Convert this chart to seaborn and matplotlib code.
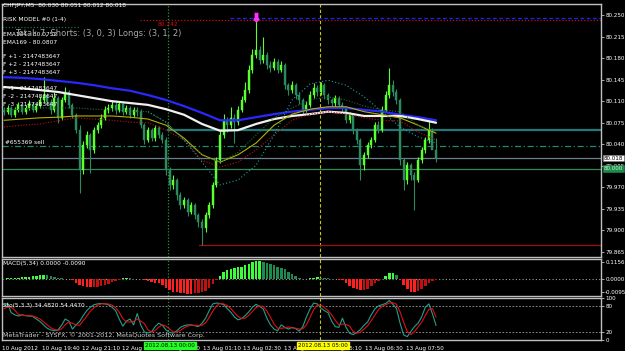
import numpy as np
import pandas as pd
import matplotlib
matplotlib.use("Agg")
import matplotlib.pyplot as plt
import seaborn as sns

# ---------------- data ----------------
open0 = 80.096
close = [80.093, 80.099, 80.088, 80.096, 80.104, 80.093, 80.099, 80.105, 80.096, 80.102,
         80.112, 80.120, 80.109, 80.096, 80.115, 80.083, 80.112, 80.125, 80.104, 80.088,
         80.063, 79.998, 80.039, 80.055, 80.031, 80.063, 80.071, 80.083, 80.096, 80.099,
         80.104, 80.096, 80.105, 80.093, 80.099, 80.088, 80.096, 80.093, 80.071, 80.047,
         80.063, 80.050, 80.066, 80.055, 80.047, 79.998, 79.974, 79.982, 79.958, 79.941,
         79.949, 79.930, 79.941, 79.925, 79.914, 79.904, 79.925, 79.941, 79.974, 80.014,
         80.055, 80.079, 80.071, 80.083, 80.076, 80.096, 80.112, 80.128, 80.161, 80.185,
         80.193, 80.177, 80.185, 80.169, 80.164, 80.174, 80.161, 80.169, 80.136, 80.128,
         80.136, 80.120, 80.112, 80.096, 80.104, 80.120, 80.131, 80.125, 80.136, 80.120,
         80.112, 80.107, 80.115, 80.104, 80.099, 80.079, 80.088, 80.063, 80.047, 80.006,
         80.023, 80.039, 80.047, 80.071, 80.063, 80.096, 80.120, 80.136, 80.125, 80.112,
         80.014, 79.982, 80.006, 79.990, 79.982, 80.014, 80.031, 80.047, 80.063, 80.030,
         80.018]
high = [80.101, 80.104, 80.102, 80.100, 80.109, 80.107, 80.104, 80.112, 80.108, 80.107,
        80.118, 80.149, 80.124, 80.113, 80.125, 80.118, 80.117, 80.133, 80.128, 80.107,
        80.091, 80.071, 80.045, 80.062, 80.058, 80.068, 80.077, 80.090, 80.102, 80.105,
        80.112, 80.108, 80.110, 80.108, 80.104, 80.102, 80.101, 80.100, 80.097, 80.075,
        80.068, 80.067, 80.071, 80.070, 80.060, 80.052, 80.003, 79.990, 79.986, 79.962,
        79.955, 79.953, 79.946, 79.945, 79.929, 79.918, 79.930, 79.946, 79.978, 80.020,
        80.062, 80.090, 80.085, 80.100, 80.090, 80.102, 80.118, 80.141, 80.168, 80.195,
        80.242, 80.200, 80.215, 80.190, 80.175, 80.180, 80.178, 80.175, 80.172, 80.140,
        80.143, 80.140, 80.125, 80.116, 80.110, 80.126, 80.140, 80.136, 80.142, 80.140,
        80.124, 80.116, 80.120, 80.118, 80.108, 80.103, 80.093, 80.091, 80.067, 80.050,
        80.028, 80.044, 80.052, 80.076, 80.078, 80.102, 80.126, 80.164, 80.145, 80.130,
        80.116, 80.018, 80.012, 80.010, 79.995, 80.020, 80.036, 80.052, 80.080, 80.067,
        80.051]
low = [80.088, 80.090, 80.084, 80.085, 80.093, 80.090, 80.090, 80.096, 80.092, 80.093,
       80.099, 80.108, 80.104, 80.090, 80.093, 80.074, 80.080, 80.108, 80.099, 80.083,
       80.058, 79.961, 79.992, 80.034, 79.993, 80.026, 80.058, 80.066, 80.079, 80.091,
       80.094, 80.090, 80.092, 80.088, 80.089, 80.083, 80.084, 80.086, 80.066, 80.040,
       80.043, 80.045, 80.046, 80.050, 80.042, 79.990, 79.966, 79.968, 79.950, 79.935,
       79.936, 79.924, 79.926, 79.918, 79.906, 79.876, 79.898, 79.920, 79.937, 79.970,
       80.010, 80.050, 80.060, 80.066, 80.042, 80.072, 80.092, 80.108, 80.124, 80.156,
       80.180, 80.170, 80.172, 80.163, 80.158, 80.160, 80.155, 80.157, 80.130, 80.120,
       80.123, 80.113, 80.106, 80.090, 80.092, 80.100, 80.116, 80.118, 80.120, 80.114,
       80.106, 80.101, 80.103, 80.099, 80.093, 80.074, 80.074, 80.057, 80.040, 79.982,
       79.998, 80.018, 80.034, 80.043, 80.058, 80.060, 80.092, 80.115, 80.118, 80.105,
       80.006, 79.966, 79.976, 79.982, 79.933, 79.978, 80.010, 80.026, 80.042, 80.033,
       80.012]

# moving averages sampled every 5 bars (bar 0 .. 120)
ma_step = 5
ema169 = [80.149, 80.148, 80.146, 80.143, 80.140, 80.136, 80.131, 80.127, 80.120, 80.112,
          80.102, 80.091, 80.079, 80.079, 80.084, 80.089, 80.093, 80.096, 80.099, 80.099,
          80.096, 80.093, 80.088, 80.084, 80.079]
ema144 = [80.133, 80.131, 80.128, 80.125, 80.120, 80.115, 80.110, 80.107, 80.104, 80.097,
          80.088, 80.073, 80.062, 80.063, 80.073, 80.081, 80.086, 80.089, 80.093, 80.091,
          80.086, 80.086, 80.086, 80.081, 80.075]
ma_yellow = [80.079, 80.081, 80.083, 80.084, 80.086, 80.086, 80.086, 80.084, 80.081, 80.071,
             80.050, 80.023, 80.011, 80.023, 80.042, 80.071, 80.089, 80.097, 80.101, 80.101,
             80.093, 80.088, 80.083, 80.071, 80.058]
ma_red = [80.068, 80.071, 80.073, 80.078, 80.083, 80.081, 80.079, 80.076, 80.075, 80.063,
          80.047, 80.014, 80.003, 80.011, 80.031, 80.055, 80.079, 80.089, 80.093, 80.089,
          80.083, 80.079, 80.078, 80.060, 80.047]
ma_dkgreen = [80.096, 80.097, 80.099, 80.099, 80.099, 80.097, 80.096, 80.094, 80.093, 80.076,
              80.047, 80.023, 80.011, 80.027, 80.055, 80.083, 80.099, 80.112, 80.117, 80.112,
              80.102, 80.096, 80.093, 80.071, 80.060]
arc_start = 40
ma_cyan = [80.093, 80.076, 80.047, 80.011, 79.974, 79.982, 80.006, 80.055, 80.112, 80.138,
           80.144, 80.136, 80.117, 80.093, 80.068, 80.052, 80.042]

macd = [0.003, 0.004, 0.006, 0.008, 0.010, 0.012, 0.014, 0.016, 0.018, 0.020,
        0.024, 0.027, 0.025, 0.020, 0.014, 0.008, 0.004, 0.002, 0.000, -0.010,
        -0.025, -0.040, -0.050, -0.054, -0.056, -0.054, -0.052, -0.048, -0.040, -0.032,
        -0.022, -0.012, -0.004, 0.004, 0.006, 0.005, 0.003, 0.002, 0.000, -0.006,
        -0.012, -0.018, -0.024, -0.030, -0.040, -0.060, -0.075, -0.085, -0.090, -0.095,
        -0.098, -0.100, -0.100, -0.098, -0.095, -0.090, -0.080, -0.060, -0.035, -0.010,
        0.020, 0.045, 0.060, 0.070, 0.075, 0.080, 0.085, 0.092, 0.105, 0.115,
        0.120, 0.125, 0.115, 0.108, 0.100, 0.092, 0.085, 0.075, 0.065, 0.050,
        0.035, 0.020, 0.008, 0.000, 0.002, 0.006, 0.010, 0.012, 0.010, 0.008,
        0.004, 0.002, 0.000, -0.004, -0.010, -0.025, -0.045, -0.060, -0.070, -0.075,
        -0.072, -0.065, -0.050, -0.030, -0.012, -0.002, 0.020, 0.040, 0.042, 0.025,
        -0.005, -0.040, -0.065, -0.085, -0.090, -0.080, -0.065, -0.045, -0.025, -0.012,
        -0.005]

stoch_k = [80, 88, 65, 60, 57, 60, 58, 57, 56, 50,
           44, 36, 28, 24, 22, 24, 35, 50, 45, 26,
           36, 44, 58, 70, 78, 84, 86, 87, 86, 84,
           78, 70, 50, 33, 45, 50, 36, 63, 35, 19,
           17, 20, 32, 40, 35, 24, 18, 16, 22, 30,
           34, 36, 36, 34, 32, 40, 52, 70, 86, 88,
           87, 84, 75, 66, 55, 48, 51, 58, 67, 78,
           85, 80, 74, 52, 36, 26, 22, 36, 30, 26,
           30, 27, 21, 32, 55, 74, 88, 86, 76, 70,
           65, 45, 32, 30, 52, 30, 16, 13, 18, 25,
           35, 43, 60, 74, 81, 84, 87, 94, 85, 75,
           40, 12, 8, 20, 32, 40, 55, 78, 86, 62,
           34.5]
stoch_d = [75, 78, 78, 71, 61, 59, 58, 58, 57, 54,
           50, 43, 36, 29, 25, 23, 27, 36, 43, 40,
           36, 35, 46, 57, 69, 77, 83, 86, 86, 86,
           83, 77, 66, 51, 43, 43, 44, 50, 45, 39,
           24, 19, 23, 31, 36, 33, 26, 19, 19, 23,
           29, 33, 35, 35, 34, 35, 41, 54, 69, 81,
           87, 86, 82, 75, 65, 56, 51, 52, 59, 68,
           77, 81, 80, 69, 54, 38, 28, 28, 29, 31,
           29, 28, 26, 27, 36, 54, 72, 83, 83, 77,
           70, 60, 47, 36, 38, 37, 33, 20, 16, 19,
           26, 34, 46, 59, 72, 80, 84, 88, 89, 85,
           67, 42, 20, 13, 20, 31, 42, 58, 73, 75,
           54.4]

price_ticks = [80.250, 80.215, 80.180, 80.145, 80.110, 80.075, 80.040, 80.005,
               79.970, 79.935, 79.900, 79.865]
time_tick_bars = [-0.5, 10.6, 21.7, 32.8, 43.9, 55.3, 66.4, 77.8, 88.9, 100.3, 111.7]
time_tick_labels = ["10 Aug 2012", "10 Aug 19:40", "12 Aug 21:10", "12 Aug 22:30",
                    "12 Aug 23:50", "13 Aug 01:10", "13 Aug 02:30", "13 Aug 03:50",
                    "13 Aug 05:10", "13 Aug 06:30", "13 Aug 07:50"]
vline_green_bar = 45.6
vline_yellow_bar = 87.8

high_level = 80.242
blue_level = 80.245
order_level = 80.063
sell_level = 80.037
bid_level = 80.018
green_level = 80.000
red_level = 79.876

info_lines = ["RISK MODEL #0 (1-4)", "EMA144 - 80.0752", "EMA169 - 80.0807",
              "F +1 - 2147483647", "F +2 - 2147483647", "F +3 - 2147483647",
              "F -1 - 2147483647", "F -2 - 2147483647", "F -3 - 2147483647"]
info_y = [20, 35, 43, 57, 65, 73, 88, 96, 104]
title_text = "CHFJPY,M5  80.030 80.051 80.012 80.018"
total_text = "Total: 7, Shorts: (3, 0, 3) Longs: (3, 1, 2)"

# ---------------- style ----------------
sns.set_style("dark", rc={"axes.facecolor": "black", "figure.facecolor": "black",
                          "axes.edgecolor": "#c0c0c0", "grid.color": "black"})
plt.rcParams["font.family"] = ["DejaVu Sans"]

W, H = 625, 351
fig = plt.figure(figsize=(W / 100, H / 100), dpi=100)
fig.patch.set_facecolor("black")

def fx(px):
    return px / W

def fy(py):
    return 1 - py / H

def ax_rect(x0, y0, x1, y1):
    return [fx(x0), fy(y1), (x1 - x0) / W, (y1 - y0) / H]

ax = fig.add_axes(ax_rect(2, 4, 601, 257))
axm = fig.add_axes(ax_rect(2, 259, 601, 296))
axs = fig.add_axes(ax_rect(2, 298, 601, 340))

n = len(close)
idx = np.arange(n)
opens = [open0] + close[:-1]
df = pd.DataFrame({"i": idx, "o": opens, "h": high, "l": low, "c": close})
XMIN, XMAX = -0.55, 165.8

for a in (ax, axm, axs):
    a.set_facecolor("black")
    a.set_xlim(XMIN, XMAX)
    for s in a.spines.values():
        s.set_color("#c0c0c0")
        s.set_linewidth(1.0)
    a.grid(False)
    a.axvline(vline_green_bar, color="#1f9a3a", lw=0.9, ls=(0, (1, 1.5)), zorder=1)
    a.axvline(vline_yellow_bar, color="#c8c800", lw=0.8, ls=(0, (3, 2)), zorder=1)

# --- main panel ---
ax.set_ylim(79.8569, 80.2679)
ax.axhline(high_level, xmin=(37.8 - XMIN) / (XMAX - XMIN), color="#c01010", lw=0.9, ls=(0, (1, 1.5)), zorder=1)
ax.axhline(blue_level, xmin=(62.8 - XMIN) / (XMAX - XMIN), color="#2020ff", lw=0.9, ls=(0, (3, 2)), zorder=1)
ax.axhline(order_level, xmin=(vline_green_bar - XMIN) / (XMAX - XMIN), color="#1f7a78", lw=1.6, zorder=1)
ax.axhline(sell_level, color="#1f8a70", lw=0.9, ls=(0, (5, 2, 1, 2)), zorder=1)
ax.axhline(bid_level, color="#6a7f8a", lw=0.9, zorder=1)
ax.axhline(green_level, color="#2e8b57", lw=0.9, zorder=1)
ax.axhline(red_level, xmin=(54.2 - XMIN) / (XMAX - XMIN), color="#a01010", lw=0.9, zorder=1)
ax.plot([XMIN, 21], [80.231, 80.231], color="#1f6f3a", lw=0.9, ls=(0, (1, 1.5)), zorder=1)

# candles
bull = df["c"] >= df["o"]
col = np.where(bull, "#5cff2e", "#2b8a5e")
ax.vlines(df["i"], df["l"], df["h"], colors=col, lw=0.8, zorder=3)
body_h = (df["c"] - df["o"]).where((df["c"] - df["o"]).abs() > 0.0008, 0.0008)
ax.bar(df["i"], body_h, bottom=df["o"], width=0.55, color=col, edgecolor=col, lw=0.3, zorder=3)

# moving averages
mx = np.arange(0, n, ma_step)
sns.lineplot(x=mx, y=ema169, ax=ax, color="#2828ff", lw=1.6, zorder=4)
sns.lineplot(x=mx, y=ema144, ax=ax, color="#f0f0f0", lw=1.6, zorder=4)
sns.lineplot(x=mx, y=ma_yellow, ax=ax, color="#b8b000", lw=0.8, zorder=4)
sns.lineplot(x=mx, y=ma_red, ax=ax, color="#c01010", lw=0.8, ls=(0, (1, 1.5)), zorder=4)
sns.lineplot(x=mx, y=ma_dkgreen, ax=ax, color="#1f6f3a", lw=0.8, ls=(0, (1, 1.5)), zorder=4)
cx = np.arange(arc_start, n, ma_step)
sns.lineplot(x=cx, y=ma_cyan, ax=ax, color="#20a0a0", lw=0.8, ls=(0, (1, 2)), zorder=4)

hi_i = int(np.argmax(high))
ax.plot(hi_i, high[hi_i] + 0.004, marker=r"$\Downarrow$", color="#ff30ff", ms=6, zorder=6)

tfs = 4.1
ax.yaxis.tick_right()
ax.set_yticks(price_ticks)
ax.set_yticklabels([f"{v:.3f}" for v in price_ticks])
ax.set_xticks([])
ax.tick_params(axis="y", colors="#c0c0c0", labelcolor="white", labelsize=tfs,
               length=2, width=0.6, pad=1, direction="out")

# --- MACD panel ---
axm.set_ylim(-0.1156, 0.136)
mcol = []
for k, v in enumerate(macd):
    prev = macd[k - 1] if k > 0 else v
    if v >= 0:
        mcol.append("#3cff3c" if v >= prev else "#1f8a50")
    else:
        mcol.append("#ff2020" if v <= prev else "#c01010")
axm.bar(idx, macd, width=0.7, color=mcol, lw=0, zorder=3)
axm.axhline(0, color="#a0a0a0", lw=0.8, ls=(0, (1, 2)), zorder=2)
axm.yaxis.tick_right()
axm.set_yticks([0.1156, 0.0, -0.088])
axm.set_yticklabels(["0.1156", "0.0000", "-0.0095"])
axm.set_xticks([])
axm.tick_params(axis="y", colors="#c0c0c0", labelcolor="white", labelsize=tfs,
                length=2, width=0.6, pad=1)

# --- Stochastic panel ---
axs.set_ylim(0, 100)
sns.lineplot(x=idx, y=stoch_k, ax=axs, color="#20a090", lw=0.8, zorder=4)
sns.lineplot(x=idx, y=stoch_d, ax=axs, color="#e01010", lw=0.8, zorder=4)
axs.axhline(80, color="#a0a0a0", lw=0.6, ls=(0, (2, 2)), zorder=2)
axs.axhline(20, color="#a0a0a0", lw=0.6, ls=(0, (2, 2)), zorder=2)
axs.yaxis.tick_right()
axs.set_yticks([100, 80, 20, 0])
axs.set_yticklabels(["100", "80", "20", "0"])
axs.tick_params(axis="y", colors="#c0c0c0", labelcolor="white", labelsize=tfs,
                length=2, width=0.6, pad=1)
axs.set_xticks(time_tick_bars)
axs.set_xticklabels(time_tick_labels, ha="left")
axs.tick_params(axis="x", colors="#c0c0c0", labelcolor="white", labelsize=tfs,
                length=3, width=0.6, pad=1)
for a in (ax, axm, axs):
    a.set_xlabel("")
    a.set_ylabel("")
    a.set_xlim(XMIN, XMAX)

# --- texts ---
fs = 4.2
fig.text(fx(3), fy(6), title_text, color="white", fontsize=fs, va="center")
for t, yy in zip(info_lines, info_y):
    fig.text(fx(3), fy(yy), t, color="white", fontsize=fs, va="center")
fig.text(fx(15), fy(33), total_text, color="#a8a8a8", fontsize=6.0, va="center")
fig.text(fx(158), fy(24), f"{high_level:.3f}", color="#d01010", fontsize=fs, va="center")
fig.text(fx(5), fy(143), "#655369 sell", color="white", fontsize=fs, va="center")
fig.text(fx(3), fy(264), "MACD(5,34) 0.0000 -0.0090", color="white", fontsize=fs, va="center")
fig.text(fx(3), fy(306), "Sto(5,3,3) 34.4820 54.4470", color="white", fontsize=fs, va="center")
fig.text(fx(3), fy(335), "MetaTrader - SYSFX, \u00a9 2001-2012, MetaQuotes Software Corp.",
         color="#d0d0d0", fontsize=4.6, va="center")

fig.text(fx(603.5), fy(158), f"{bid_level:.3f}", color="black", fontsize=tfs, va="center",
         bbox=dict(boxstyle="square,pad=0.15", fc="white", ec="#808080", lw=0.4))
fig.text(fx(603.5), fy(168.5), f"{green_level:.3f}", color="#c0ffc0", fontsize=tfs, va="center",
         bbox=dict(boxstyle="square,pad=0.15", fc="#1f8a50", ec="#1f8a50", lw=0.4))

fig.text(fx(145), fy(345.5), "2012.08.13 00:00", color="black", fontsize=tfs, va="center",
         bbox=dict(boxstyle="square,pad=0.15", fc="#22ff22", ec="#22ff22"))
fig.text(fx(298), fy(345.5), "2012.08.13 05:00", color="black", fontsize=tfs, va="center",
         bbox=dict(boxstyle="square,pad=0.15", fc="#ffff00", ec="#ffff00"))

fig.savefig("out.png", dpi=100, facecolor="black")
